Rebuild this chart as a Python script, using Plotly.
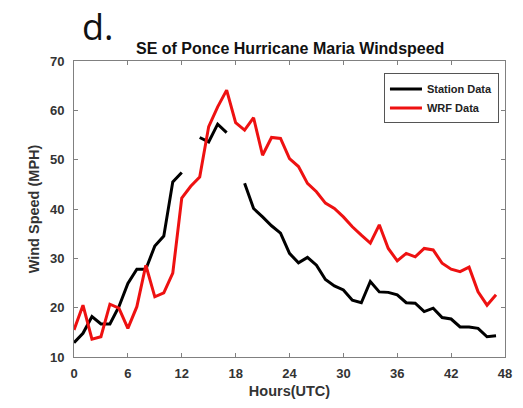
import plotly.graph_objects as go

hours = list(range(48))
station = [12.9, 14.8, 18.2, 16.7, 16.7, 20.2, 24.9, 27.8, 27.8, 32.5, 34.5, 45.5,
           47.4, None, 54.5, 53.6, 57.2, 55.5, None, 45.2, 40.1, 38.4, 36.6, 35.1,
           31.0, 29.1, 30.2, 28.6, 25.7, 24.4, 23.6, 21.5, 21.0, 25.3, 23.2, 23.1,
           22.6, 21.0, 20.9, 19.2, 19.9, 18.0, 17.7, 16.1, 16.1, 15.8, 14.1, 14.3]
wrf = [15.5, 20.5, 13.6, 14.1, 20.7, 19.9, 15.8, 20.2, 28.6, 22.2, 23.0, 27.0,
       42.2, 44.6, 46.5, 56.7, 60.7, 64.1, 57.5, 56.0, 58.5, 50.9, 54.5, 54.3,
       50.2, 48.6, 45.2, 43.5, 41.2, 40.1, 38.4, 36.4, 34.7, 33.1, 36.8, 32.0,
       29.5, 31.0, 30.3, 32.0, 31.7, 29.0, 27.8, 27.3, 28.2, 23.2, 20.5, 22.6]
x_ticks = [0, 6, 12, 18, 24, 30, 36, 42, 48]
y_ticks = [10, 20, 30, 40, 50, 60, 70]

title_text = "SE of Ponce Hurricane Maria Windspeed"
panel_label = "d."

FONT = "Arial, Liberation Sans"

fig = go.Figure()
fig.add_trace(go.Scatter(x=hours, y=station, mode="lines", name="Station Data",
                         line=dict(color="#000000", width=3), connectgaps=False))
fig.add_trace(go.Scatter(x=hours, y=wrf, mode="lines", name="WRF Data",
                         line=dict(color="#ee1111", width=3)))

axis_common = dict(showline=True, linecolor="#808080", linewidth=1, mirror="ticks",
                   ticks="inside", ticklen=4, tickcolor="#808080", showgrid=False,
                   zeroline=False,
                   tickfont=dict(family=FONT, size=13, color="#333333", weight="bold"))

fig.update_layout(
    width=523, height=408,
    margin=dict(l=74, r=11, t=61, b=51),
    paper_bgcolor="white", plot_bgcolor="white",
    xaxis=dict(range=[0, 48], tickvals=x_ticks, ticklabelstandoff=4, **axis_common,
               title=dict(text="Hours(UTC)", standoff=6,
                          font=dict(family=FONT, size=14.5, color="#333333",
                                    weight="bold"))),
    yaxis=dict(range=[10, 70], tickvals=y_ticks, ticklabelstandoff=6, **axis_common,
               title=dict(text="Wind Speed (MPH)", standoff=6,
                          font=dict(family=FONT, size=14.5, color="#333333",
                                    weight="bold"))),
    legend=dict(x=0.986, xanchor="right", y=0.958, yanchor="top",
                bordercolor="#555555", borderwidth=1, bgcolor="white",
                font=dict(family=FONT, size=11, color="#222222", weight="bold"),
                itemwidth=32, tracegroupgap=0),
    showlegend=True,
)

fig.add_annotation(text=title_text, xref="paper", yref="paper", x=0.5, y=1.0,
                   yanchor="bottom", yshift=2, showarrow=False,
                   font=dict(family=FONT, size=16, color="#111111", weight="bold"))
fig.add_annotation(text=panel_label, xref="paper", yref="paper", x=0.015, y=1.0,
                   xanchor="left", yanchor="bottom", yshift=8, showarrow=False,
                   font=dict(family="Open Sans, Noto Sans", size=36, color="#111111"))

fig.write_html("out.html", config={"displayModeBar": False},
               post_script="document.body.style.margin='0';")
